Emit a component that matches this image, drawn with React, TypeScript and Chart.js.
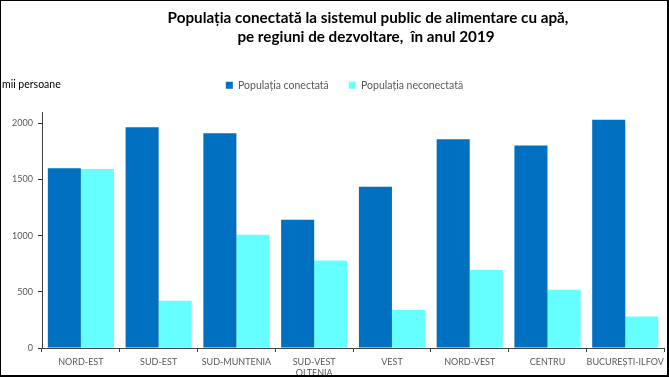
import React, { useEffect, useRef } from 'react';
import { Chart, registerables } from 'chart.js';

Chart.register(...registerables);

const categories: (string | string[])[] = [
  'NORD-EST',
  'SUD-EST',
  'SUD-MUNTENIA',
  ['SUD-VEST', 'OLTENIA'],
  'VEST',
  'NORD-VEST',
  'CENTRU',
  'BUCUREȘTI-ILFOV',
];
const connected = [1600, 1964, 1911, 1141, 1434, 1858, 1801, 2032];
const notConnected = [1592, 420, 1007, 779, 338, 693, 518, 281];
const yTicks = [0, 500, 1000, 1500, 2000];
const seriesNames = ['Populația conectată', 'Populația neconectată'];
const titleLines = [
  'Populația conectată la sistemul public de alimentare cu apă,',
  'pe regiuni de dezvoltare,  în anul 2019',
];
const unitLabel = 'mii persoane';

const FONT = 'Lato';
const TEXT_GRAY = '#595959';
const AXIS_COLOR = '#404040';

const legendPlacePlugin = {
  id: 'legendPlace',
  beforeInit(chart: any) {
    const legend = chart.legend;
    if (!legend) return;
    const orig = legend.fit;
    legend.fit = function () {
      orig.call(this);
      this.height = 52;
    };
  },
  afterLayout(chart: any) {
    const legend = chart.legend;
    if (!legend) return;
    legend.left += 11;
    legend.right += 11;
  },
};

const decorPlugin = {
  id: 'decor',
  afterDraw(chart: any) {
    const ctx = chart.ctx as CanvasRenderingContext2D;
    const W = chart.width;
    const H = chart.height;
    ctx.save();
    // title
    ctx.font = `bold 20px ${FONT}`;
    const w = ctx.measureText(titleLines[0]).width;
    const size = (20 * 401) / w;
    ctx.font = `bold ${size}px ${FONT}`;
    ctx.fillStyle = '#000000';
    ctx.textAlign = 'center';
    ctx.textBaseline = 'alphabetic';
    ctx.fillText(titleLines[0], 368, 23);
    ctx.fillText(titleLines[1], 366, 42);
    // unit label
    ctx.font = `10.5px ${FONT}`;
    ctx.textAlign = 'left';
    ctx.fillStyle = '#000000';
    ctx.fillText(unitLabel, 2, 88);
    // frame
    ctx.fillStyle = '#000000';
    ctx.fillRect(0, 0, W, 1);
    ctx.fillRect(0, 0, 1, H);
    ctx.fillRect(W - 2, 0, 2, H);
    ctx.fillRect(0, H - 2, W, 2);
    ctx.restore();
  },
};

export default function App() {
  const ref = useRef<HTMLCanvasElement | null>(null);

  useEffect(() => {
    if (!ref.current) return;
    const chart = new Chart(ref.current, {
      type: 'bar',
      data: {
        labels: categories,
        datasets: [
          {
            label: seriesNames[0],
            data: connected,
            backgroundColor: '#0070C0',
            borderWidth: 0,
            barPercentage: 1,
            categoryPercentage: 0.85,
          },
          {
            label: seriesNames[1],
            data: notConnected,
            backgroundColor: '#66FFFF',
            borderWidth: 0,
            barPercentage: 1,
            categoryPercentage: 0.85,
          },
        ],
      },
      options: {
        responsive: false,
        animation: false,
        devicePixelRatio: 1,
        layout: { padding: { top: 60, left: 0, right: 2, bottom: 0 } },
        plugins: {
          title: { display: false },
          tooltip: { enabled: false },
          legend: {
            display: true,
            position: 'top',
            align: 'center',
            labels: {
              boxWidth: 7,
              boxHeight: 7,
              padding: 20,
              color: TEXT_GRAY,
              font: { family: FONT, size: 10.5 },
            },
          },
        },
        scales: {
          x: {
            grid: {
              display: true,
              drawOnChartArea: false,
              tickLength: 4,
              color: AXIS_COLOR,
              offset: true,
            },
            border: { display: true, color: AXIS_COLOR, width: 1 },
            ticks: {
              color: TEXT_GRAY,
              font: { family: FONT, size: 9 },
              maxRotation: 0,
              minRotation: 0,
              autoSkip: false,
              padding: 5,
            },
            afterFit(scale: any) {
              scale.height = 29;
            },
          },
          y: {
            min: 0,
            max: 2100,
            grid: {
              display: true,
              drawOnChartArea: false,
              tickLength: 4,
              color: AXIS_COLOR,
            },
            border: { display: true, color: AXIS_COLOR, width: 1 },
            ticks: {
              color: TEXT_GRAY,
              font: { family: FONT, size: 9 },
              padding: 5,
              callback: (value: any) => String(value),
            },
            afterBuildTicks(scale: any) {
              scale.ticks = yTicks.map((v) => ({ value: v }));
            },
            afterFit(scale: any) {
              scale.width = 42;
            },
          },
        },
      },
      plugins: [legendPlacePlugin, decorPlugin],
    });
    return () => chart.destroy();
  }, []);

  return (
    <div style={{ position: 'fixed', left: 0, top: 0, width: 669, height: 377, background: '#ffffff' }}>
      <canvas ref={ref} width={669} height={377} style={{ display: 'block' }} />
    </div>
  );
}
